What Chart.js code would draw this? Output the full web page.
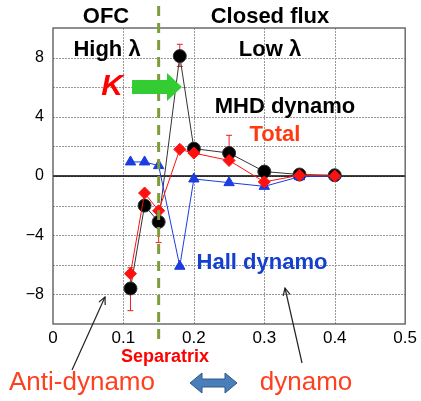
<!DOCTYPE html>
<html><head><meta charset="utf-8">
<script src="https://cdn.jsdelivr.net/npm/chart.js@4/dist/chart.umd.min.js"></script>
<style>html,body{margin:0;padding:0;background:#fff}#wrap{width:421px;height:401px}</style>
</head><body><div id="wrap"><canvas id="c" width="421" height="401"></canvas></div>
<script>
// data
const xValues = [0.11, 0.13, 0.15, 0.18, 0.20, 0.25, 0.30, 0.35, 0.40];
const mhdDynamo = [-7.6, -2.0, -3.1, 8.1, 1.85, 1.55, 0.3, 0.1, 0.05];
const totalDyn = [-6.6, -1.15, -2.35, 1.8, 1.55, 1.05, -0.4, 0.05, 0.0];
const hallDynamo = [0.95, 0.95, 0.7, -6.1, -0.2, -0.45, -0.7, -0.05, 0.0];
const errHigh = [-6.2, null, -2.4, 8.9, null, 2.75, null, null, null];
const errLow = [-9.1, null, -4.5, 7.4, null, 1.1, null, null, null];
const yTickLabels = [8, 4, 0, -4, -8];
const separatrixX = 0.15;

const pts = arr => xValues.map((x, i) => ({x, y: arr[i]}));

const extras = {
  id: 'extras',
  beforeDatasetsDraw(chart) {
    const {ctx, chartArea: a, scales: {x, y}} = chart;
    ctx.save();
    // dotted grid
    ctx.strokeStyle = '#999'; ctx.lineWidth = 1; ctx.setLineDash([2, 1]);
    for (let v = 0.1; v < 0.5; v += 0.1) {
      const px = Math.round(x.getPixelForValue(v)) + 0.5;
      ctx.beginPath(); ctx.moveTo(px, a.top); ctx.lineTo(px, a.bottom); ctx.stroke();
    }
    for (let v = -8; v <= 8; v += 2) {
      const py = Math.round(y.getPixelForValue(v)) + 0.5;
      ctx.beginPath(); ctx.moveTo(a.left, py); ctx.lineTo(a.right, py); ctx.stroke();
    }
    ctx.setLineDash([]);
    // zero line
    const y0 = y.getPixelForValue(0);
    ctx.strokeStyle = '#000'; ctx.lineWidth = 1.3;
    ctx.beginPath(); ctx.moveTo(a.left, y0); ctx.lineTo(a.right, y0); ctx.stroke();
    // frame
    ctx.strokeStyle = '#555'; ctx.lineWidth = 1.3;
    ctx.strokeRect(a.left, a.top, a.right - a.left, a.bottom - a.top);
    // error bars
    ctx.strokeStyle = '#e82020'; ctx.lineWidth = 1;
    xValues.forEach((xv, i) => {
      if (errHigh[i] == null) return;
      const px = x.getPixelForValue(xv);
      const ph = y.getPixelForValue(errHigh[i]), pl = y.getPixelForValue(errLow[i]);
      ctx.beginPath();
      ctx.moveTo(px, ph); ctx.lineTo(px, pl);
      ctx.moveTo(px - 3, ph); ctx.lineTo(px + 3, ph);
      ctx.moveTo(px - 3, pl); ctx.lineTo(px + 3, pl);
      ctx.stroke();
    });
    ctx.restore();
  },
  afterDraw(chart) {
    const {ctx, scales: {x}} = chart;
    ctx.save();
    // separatrix dashed line
    const sx = x.getPixelForValue(separatrixX);
    ctx.strokeStyle = '#7f9b3c'; ctx.lineWidth = 3; ctx.setLineDash([10, 7]);
    ctx.beginPath(); ctx.moveTo(sx, 6); ctx.lineTo(sx, 340); ctx.stroke();
    ctx.setLineDash([]);
    // texts
    ctx.textAlign = 'center'; ctx.textBaseline = 'middle';
    const t = (s, px, py, font, col) => { ctx.font = font; ctx.fillStyle = col; ctx.fillText(s, px, py); };
    const B = 'bold 22px "Liberation Sans", Arial, sans-serif';
    t('OFC', 106, 17, B, '#000');
    t('Closed flux', 270, 17, B, '#000');
    t('High \u03bb', 107, 50, B, '#000');
    t('Low \u03bb', 270, 50, B, '#000');
    t('MHD dynamo', 285, 107, B, '#000');
    t('Total', 275, 135, B, '#ff3a10');
    t('Hall dynamo', 262, 263, B, '#1440d0');
    t('K', 112, 87, 'italic bold 30px "Liberation Sans", Arial, sans-serif', '#ff0000');
    t('Separatrix', 165, 357, 'bold 18px "Liberation Sans", Arial, sans-serif', '#ff0000');
    t('Anti-dynamo', 82, 383, '26px "Liberation Sans", Arial, sans-serif', '#ff4020');
    t('dynamo', 306, 383, '26px "Liberation Sans", Arial, sans-serif', '#ff4020');
    // green arrow
    ctx.fillStyle = '#33cc33';
    ctx.beginPath();
    ctx.moveTo(132, 80); ctx.lineTo(167, 80); ctx.lineTo(167, 73); ctx.lineTo(182, 87);
    ctx.lineTo(167, 101); ctx.lineTo(167, 94); ctx.lineTo(132, 94); ctx.closePath(); ctx.fill();
    // double arrow
    ctx.fillStyle = '#4a7ebb'; ctx.strokeStyle = '#2f5686'; ctx.lineWidth = 1;
    ctx.beginPath();
    ctx.moveTo(190, 383); ctx.lineTo(202, 373); ctx.lineTo(202, 379); ctx.lineTo(225, 379);
    ctx.lineTo(225, 373); ctx.lineTo(237, 383); ctx.lineTo(225, 393); ctx.lineTo(225, 387);
    ctx.lineTo(202, 387); ctx.lineTo(202, 393); ctx.closePath(); ctx.fill(); ctx.stroke();
    // black thin arrows
    const arrow = (x1, y1, x2, y2) => {
      ctx.strokeStyle = '#222'; ctx.lineWidth = 1.2;
      ctx.beginPath(); ctx.moveTo(x1, y1); ctx.lineTo(x2, y2); ctx.stroke();
      const ang = Math.atan2(y2 - y1, x2 - x1), L = 8;
      ctx.beginPath();
      ctx.moveTo(x2 - L * Math.cos(ang - 0.45), y2 - L * Math.sin(ang - 0.45));
      ctx.lineTo(x2, y2);
      ctx.lineTo(x2 - L * Math.cos(ang + 0.45), y2 - L * Math.sin(ang + 0.45));
      ctx.stroke();
    };
    arrow(72, 370, 105, 297);
    arrow(302, 363, 285, 288);
    ctx.restore();
  }
};

new Chart(document.getElementById('c'), {
  type: 'line',
  data: {
    datasets: [
      {label: 'Total', data: pts(totalDyn), order: 0, borderColor: '#ff1010', backgroundColor: '#ff1010',
       borderWidth: 1, pointStyle: 'rectRot', pointRadius: 6, pointBorderColor: '#ff1010'},
      {label: 'Hall dynamo', data: pts(hallDynamo), order: 1, borderColor: '#1a3ce0', backgroundColor: '#1a3ce0',
       borderWidth: 1, pointStyle: 'triangle', pointRadius: 6},
      {label: 'MHD dynamo', data: pts(mhdDynamo), order: 2, borderColor: '#333', backgroundColor: '#000',
       borderWidth: 1, pointStyle: 'circle', pointRadius: 6.5}
    ]
  },
  options: {
    responsive: false, animation: false,
    layout: {padding: {top: 28, right: 12, left: 0, bottom: 0}},
    plugins: {legend: {display: false}, tooltip: {enabled: false}},
    scales: {
      x: {type: 'linear', min: 0, max: 0.5,
        ticks: {stepSize: 0.1, color: '#000', padding: 4, font: {size: 17, family: '"Liberation Sans", Arial'},
          callback: v => (Math.round(v * 10) / 10).toString()},
        grid: {display: false, drawTicks: false}, border: {display: false},
        afterFit: s => { s.height = 77; }},
      y: {min: -10, max: 10,
        ticks: {stepSize: 2, color: '#000', padding: 9, font: {size: 16, family: '"Liberation Sans", Arial'},
          callback: v => yTickLabels.includes(v) ? (v < 0 ? '\u2212' + Math.abs(v) : String(v)) : ''},
        grid: {display: false, drawTicks: false}, border: {display: false},
        afterFit: s => { s.width = 53; }}
    }
  },
  plugins: [extras]
});
</script></body></html>
